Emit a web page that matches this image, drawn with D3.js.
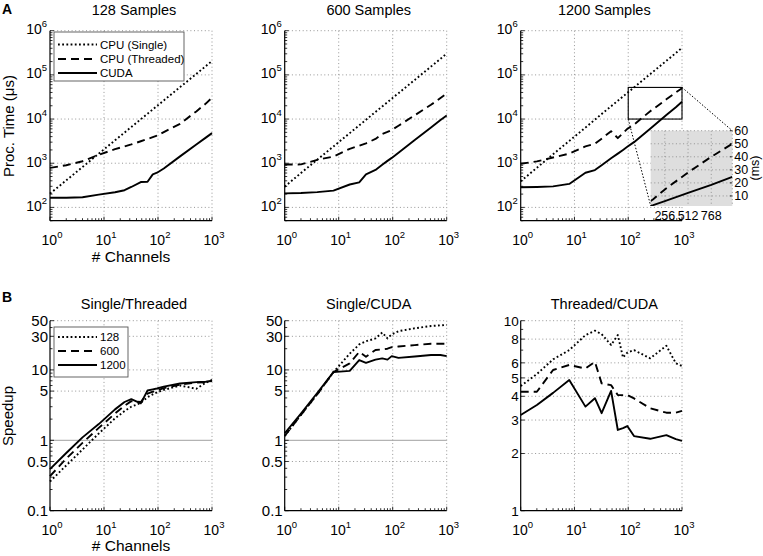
<!DOCTYPE html>
<html><head><meta charset="utf-8">
<script src="https://cdn.jsdelivr.net/npm/d3@7"></script>
<style>
body{margin:0;background:#fff}
text{font-family:"Liberation Sans",Arial,Helvetica,sans-serif;fill:#000}
</style>
</head><body>
<svg id="c" width="763" height="556"></svg>
<script>
// ---------------- DATA ----------------
const channels = [1,2,4,8,16,24,32,48,64,80,96,128,256,512,768,1000];

// Processing time (µs)
const single128   = [205,410,820,1650,3300,4950,6600,9900,13200,16500,19800,26400,52800,105000,158000,206000];
const threaded128 = [785,900,1110,1550,2080,2400,2660,3140,3530,3880,4200,5070,7800,14900,22400,30600];
const cuda128     = [165,166,170,195,220,245,290,375,380,560,610,760,1430,2650,3800,4800];

const single600   = [295,600,1200,2400,4800,7200,9600,14500,19300,24000,29000,38500,77000,154000,231000,305000];
const threaded600 = [935,940,1190,1420,2120,2480,2820,3550,4560,5110,5650,7040,12200,21000,30000,37800];
const cuda600     = [208,212,222,240,330,370,560,705,920,1130,1320,1730,3350,6450,9550,12100];

const single1200   = [390,790,1600,3200,6400,9700,13000,19500,26000,32500,39000,52000,104000,208000,312000,410000];
const threaded1200 = [970,1100,1350,1650,2400,2750,3600,5300,3700,4800,6000,7500,15000,28000,40000,50000];
const cuda1200     = [285,290,300,340,610,700,900,1300,1650,2000,2350,3000,6000,12300,18500,24600];

// Speedups
const st128  = [0.26,0.44,0.74,1.25,2.05,2.6,3.0,3.4,4.1,4.5,4.8,5.2,6.0,5.4,6.6,7.2];
const st600  = [0.31,0.55,0.92,1.5,2.4,3.1,3.6,3.5,4.6,4.9,5.1,5.5,6.2,6.6,6.7,7.0];
const st1200 = [0.39,0.66,1.1,1.7,2.75,3.5,3.85,3.35,5.1,5.3,5.45,5.8,6.4,6.7,6.8,7.0];

const sc128  = [1.15,2.3,4.5,9.3,17,23,25.5,28,34,28,32,35.5,39,42,43,43.5];
const sc600  = [1.15,2.3,4.5,9.3,12.4,18,15.4,19.2,19.5,20,21,21.5,22.5,23.5,23.5,23.5];
const sc1200 = [1.26,2.4,4.7,9.3,9.7,13.8,12.6,14,14.6,14,15.7,14.8,15.5,16.3,16.3,15.7];

const tc128  = [4.53,5.24,6.26,7.0,8.4,8.86,8.5,7.45,8.4,6.4,6.8,7.0,6.34,7.38,5.97,5.78];
const tc600  = [4.23,4.23,5.5,5.85,5.6,6.08,4.68,4.58,4.06,4.06,4.06,3.9,3.46,3.28,3.28,3.35];
const tc1200 = [3.19,3.6,4.17,4.87,3.53,3.91,3.26,4.27,2.66,2.72,2.79,2.47,2.39,2.5,2.38,2.33];

// Ticks & labels
const chanTicks  = [1,10,100,1000];
const timeTicks  = [1e2,1e3,1e4,1e5,1e6];
const speedTicks = [0.1,0.5,1,5,10,30,50];
const tcTicks    = [1,2,3,4,5,6,8,10];
const insetXTicks = [256,512,768];
const insetYTicks = [10,20,30,40,50,60];
const topTitles = ["128 Samples","600 Samples","1200 Samples"];
const botTitles = ["Single/Threaded","Single/CUDA","Threaded/CUDA"];
const legendTop = ["CPU (Single)","CPU (Threaded)","CUDA"];
const legendBot = ["128","600","1200"];

// ---------------- DRAW ----------------
const svg = d3.select("#c");
const cols = [[50,212],[284.7,446.7],[520.7,682]];
const rowTop = [30.7,220.7], rowBot = [320.7,510.7];
const styles = [
  {dash:"1.8,2.4"},   // dotted
  {dash:"8,5"},       // dashed
  {dash:null}         // solid
];
const LW = 1.9;
const gridColor = "#8a8a8a";

function sup(sel, base, exp, fs) {
  sel.append("tspan").text(base);
  sel.append("tspan").attr("dy", -7).attr("font-size", fs).text(exp);
}

function minorLog(lo, hi) {
  const out = [];
  for (let e = -2; e <= 6; e++) {
    for (let m = 1; m <= 9; m++) {
      const v = m * Math.pow(10, e);
      if (v >= lo * 0.9999 && v <= hi * 1.0001) out.push(v);
    }
  }
  return out;
}

let clipId = 0;
function panel(o) {
  const [x0,x1] = o.cols, [y0,y1] = o.rows;
  const x = d3.scaleLog().domain([1,1000]).range([x0,x1]);
  const y = d3.scaleLog().domain(o.yDomain).range([y1,y0]);
  const g = svg.append("g");

  // grid
  chanTicks.filter(t => t > 1).forEach(t => {
    g.append("line").attr("x1", x(t)).attr("x2", x(t)).attr("y1", y0).attr("y2", y1)
      .attr("stroke", gridColor).attr("stroke-width", 0.9).attr("stroke-dasharray", "1,2.6");
  });
  o.yTicks.filter(t => t > o.yDomain[0]).forEach(t => {
    const solid = o.oneLine && t === 1;
    g.append("line").attr("x1", x0).attr("x2", x1).attr("y1", y(t)).attr("y2", y(t))
      .attr("stroke", solid ? "#a0a0a0" : gridColor).attr("stroke-width", solid ? 1 : 0.9)
      .attr("stroke-dasharray", solid ? null : "1,2.6");
  });

  // ticks (inside)
  minorLog(1,1000).forEach(t => {
    const major = chanTicks.includes(t);
    g.append("line").attr("x1", x(t)).attr("x2", x(t)).attr("y1", y1).attr("y2", y1 - (major ? 4 : 2.5))
      .attr("stroke", "#000").attr("stroke-width", 0.8);
  });
  minorLog(o.yDomain[0], o.yDomain[1]).forEach(t => {
    const major = o.yTicks.includes(t);
    g.append("line").attr("x1", x0).attr("x2", x0 + (major ? 4 : 2.5)).attr("y1", y(t)).attr("y2", y(t))
      .attr("stroke", "#000").attr("stroke-width", 0.8);
  });

  // axes
  g.append("line").attr("x1", x0).attr("x2", x1).attr("y1", y1).attr("y2", y1).attr("stroke", "#000").attr("stroke-width", 1.2);
  g.append("line").attr("x1", x0).attr("x2", x0).attr("y1", y0).attr("y2", y1).attr("stroke", "#000").attr("stroke-width", 1.2);

  // x tick labels
  chanTicks.forEach((t, i) => {
    const tx = g.append("text").attr("x", x(t) + 2).attr("y", y1 + 24.5).attr("text-anchor", "middle").attr("font-size", 14);
    sup(tx, "10", String(i), 9.5);
  });
  // y tick labels
  o.yTicks.forEach(t => {
    if (o.powY) {
      const ty = g.append("text").attr("x", x0 - 3).attr("y", y(t) + 3.5).attr("text-anchor", "end").attr("font-size", 14);
      sup(ty, "10", String(Math.round(Math.log10(t))), 9.5);
    } else {
      g.append("text").attr("x", x0 - 2).attr("y", y(t)).attr("dy", "0.36em").attr("text-anchor", "end")
        .attr("font-size", o.tickFont).text(String(t));
    }
  });

  // title
  g.append("text").attr("x", (x0 + x1) / 2 + 3).attr("y", o.titleY).attr("text-anchor", "middle")
    .attr("font-size", 14.5).text(o.title);

  // data
  const id = "clip" + (clipId++);
  svg.append("clipPath").attr("id", id).append("rect").attr("x", x0 - 1).attr("y", y0 - 1).attr("width", x1 - x0 + 2).attr("height", y1 - y0 + 2);
  const line = d3.line().x((d, i) => x(channels[i])).y(d => y(d));
  const dg = g.append("g").attr("clip-path", `url(#${id})`);
  o.series.forEach((s, k) => {
    dg.append("path").attr("d", line(s)).attr("fill", "none").attr("stroke", "#000")
      .attr("stroke-width", LW).attr("stroke-dasharray", styles[k].dash).attr("stroke-linejoin", "round");
  });
  return {x, y, g};
}

function legend(bx, by, bw, bh, labels, ys) {
  const g = svg.append("g");
  g.append("rect").attr("x", bx).attr("y", by).attr("width", bw).attr("height", bh)
    .attr("fill", "#fff").attr("stroke", "#555").attr("stroke-width", 0.9);
  labels.forEach((lab, k) => {
    g.append("line").attr("x1", bx + 4).attr("x2", bx + 43).attr("y1", ys[k]).attr("y2", ys[k])
      .attr("stroke", "#000").attr("stroke-width", LW).attr("stroke-dasharray", styles[k].dash);
    g.append("text").attr("x", bx + 46).attr("y", ys[k]).attr("dy", "0.36em").attr("font-size", 11.5).text(lab);
  });
}

// Top row
const timeSets = [[single128,threaded128,cuda128],[single600,threaded600,cuda600],[single1200,threaded1200,cuda1200]];
const topPanels = timeSets.map((s, i) => panel({cols: cols[i], rows: rowTop, yDomain: [50, 1e6], yTicks: timeTicks,
  powY: true, series: s, title: topTitles[i], titleY: 15}));

// Bottom row
const speedSets = [[st128,st600,st1200],[sc128,sc600,sc1200],[tc128,tc600,tc1200]];
speedSets.forEach((s, i) => panel({cols: cols[i], rows: rowBot, yDomain: i < 2 ? [0.1, 50] : [1, 10],
  yTicks: i < 2 ? speedTicks : tcTicks, powY: false, oneLine: i < 2, tickFont: i < 2 ? 15 : 13.5,
  series: s, title: botTitles[i], titleY: 309}));

// legends
legend(54, 32, 130, 49, legendTop, [44.5, 59, 73]);
legend(54, 327, 74, 50, legendBot, [337, 351, 365]);

// axis labels
svg.append("text").attr("transform", "translate(13.5,126) rotate(-90)").attr("text-anchor", "middle").attr("font-size", 15).text("Proc. Time (μs)");
svg.append("text").attr("transform", "translate(12.5,416) rotate(-90)").attr("text-anchor", "middle").attr("font-size", 15).text("Speedup");
svg.append("text").attr("x", 131).attr("y", 261.5).attr("text-anchor", "middle").attr("font-size", 15.5).text("# Channels");
svg.append("text").attr("x", 131).attr("y", 551).attr("text-anchor", "middle").attr("font-size", 15.5).text("# Channels");
svg.append("text").attr("x", 2).attr("y", 14).attr("font-size", 14).attr("font-weight", "bold").text("A");
svg.append("text").attr("x", 2).attr("y", 302).attr("font-size", 14).attr("font-weight", "bold").text("B");

// Zoom rectangle and inset on 1200-sample panel
const P = topPanels[2];
const rx0 = P.x(100), rx1 = P.x(1000), ry0 = P.y(5.2e4), ry1 = P.y(1e4);
svg.append("rect").attr("x", rx0).attr("y", ry0).attr("width", rx1 - rx0).attr("height", ry1 - ry0)
  .attr("fill", "none").attr("stroke", "#000").attr("stroke-width", 1.1);

const ix = d3.scaleLinear().domain([100, 1000]).range([650.7, 732.3]);
const iy = d3.scaleLinear().domain([2.3, 60]).range([206, 130.7]);
const ig = svg.append("g");
ig.append("rect").attr("x", ix(100)).attr("y", iy(60)).attr("width", ix(1000) - ix(100)).attr("height", iy(2.3) - iy(60))
  .attr("fill", "#dedede");
insetXTicks.forEach(t => {
  ig.append("line").attr("x1", ix(t)).attr("x2", ix(t)).attr("y1", iy(60)).attr("y2", iy(2.3))
    .attr("stroke", "#8a8a8a").attr("stroke-width", 0.9).attr("stroke-dasharray", "1,2.6");
  ig.append("text").attr("x", ix(t)).attr("y", 219.5).attr("text-anchor", "middle").attr("font-size", 12.5).text(String(t));
});
insetYTicks.forEach(t => {
  ig.append("line").attr("x1", ix(100)).attr("x2", ix(1000)).attr("y1", iy(t)).attr("y2", iy(t))
    .attr("stroke", "#8a8a8a").attr("stroke-width", 0.9).attr("stroke-dasharray", "1,2.6");
  ig.append("line").attr("x1", ix(1000) - 2.5).attr("x2", ix(1000)).attr("y1", iy(t)).attr("y2", iy(t))
    .attr("stroke", "#000").attr("stroke-width", 0.8);
  ig.append("text").attr("x", ix(1000) + 2).attr("y", iy(t)).attr("dy", "0.36em").attr("font-size", 12.5).text(String(t));
});
ig.append("line").attr("x1", ix(1000)).attr("x2", ix(1000)).attr("y1", iy(60)).attr("y2", iy(2.3))
  .attr("stroke", "#8a8a8a").attr("stroke-width", 0.9).attr("stroke-dasharray", "1,2.6");
ig.append("text").attr("transform", "translate(759,168) rotate(-90)").attr("text-anchor", "middle").attr("font-size", 12.5).text("(ms)");
svg.append("clipPath").attr("id", "insetClip").append("rect").attr("x", ix(100)).attr("y", iy(60) - 2)
  .attr("width", ix(1000) - ix(100)).attr("height", iy(2.3) - iy(60) + 2);
const idx = channels.map((c, i) => i).filter(i => channels[i] >= 96);
const sub = arr => idx.map(i => arr[i]);
const iline = d3.line().x((d, j) => ix(channels[idx[j]])).y(d => iy(d / 1000));
const idg = ig.append("g").attr("clip-path", "url(#insetClip)");
idg.append("path").attr("d", iline(sub(threaded1200))).attr("fill", "none").attr("stroke", "#000").attr("stroke-width", LW).attr("stroke-dasharray", styles[1].dash);
idg.append("path").attr("d", iline(sub(cuda1200))).attr("fill", "none").attr("stroke", "#000").attr("stroke-width", LW);

// connectors
svg.append("line").attr("x1", rx1).attr("y1", ry0).attr("x2", ix(1000)).attr("y2", iy(60))
  .attr("stroke", "#000").attr("stroke-width", 1).attr("stroke-dasharray", "1.5,1.8");
svg.append("line").attr("x1", rx0).attr("y1", ry1).attr("x2", ix(100)).attr("y2", iy(2.3))
  .attr("stroke", "#000").attr("stroke-width", 1).attr("stroke-dasharray", "1.5,1.8");
</script>
</body></html>
